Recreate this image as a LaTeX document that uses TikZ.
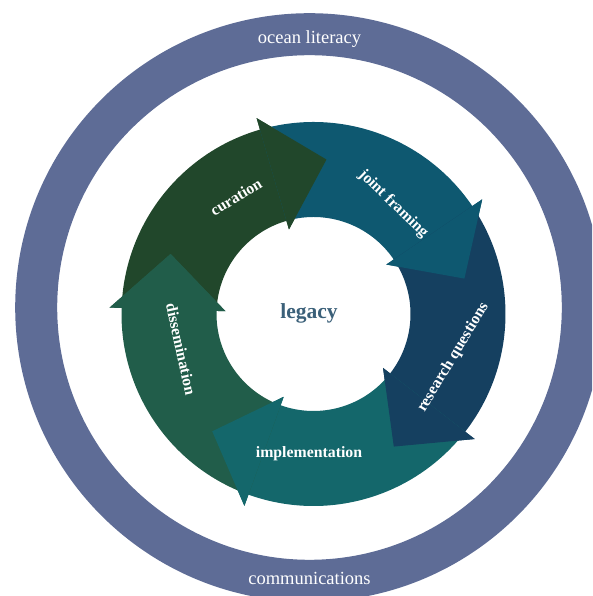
\documentclass[tikz,border=0pt]{standalone}
\usepackage{fontspec}
\setmainfont{Liberation Serif}
\usetikzlibrary{calc}
\definecolor{ringcol}{HTML}{5E6C96}
\definecolor{curcol}{HTML}{21472B}
\definecolor{jfcol}{HTML}{0E5870}
\definecolor{rqcol}{HTML}{154060}
\definecolor{impcol}{HTML}{14676B}
\definecolor{discol}{HTML}{215D4A}
\definecolor{legcol}{HTML}{3B6079}
\tikzset{
  steplabel/.style={text=white, inner sep=0pt, font=\bfseries\fontsize{15.8}{18}\selectfont},
  ringlabel/.style={text=white, inner sep=0pt, anchor=base, font=\fontsize{18.5}{21}\selectfont},
}
\begin{document}
\begin{tikzpicture}[x=1pt,y=1pt]
\useasboundingbox (0,0) rectangle (592,596);
\clip (0,0) rectangle (592,596);
\coordinate (O) at (309.5,288.5);
\coordinate (C) at (313.5,282);
% outer ring
\fill[ringcol, even odd rule] (O) circle[radius=294.3pt] (O) circle[radius=252.3pt];
% cycle segments
\begin{scope}[shift={(C)}]
\foreach \b/\c in {106.2/curcol, 34.2/jfcol, -37.8/rqcol, -109.8/impcol, -181.8/discol}{
  \fill[\c] (\b+72:192) arc[start angle=\b+72, end angle=\b, radius=192pt]
     -- (\b:204) -- (\b-21:155) -- (\b:88) -- (\b:97)
     arc[start angle=\b, end angle=\b+72, radius=97pt] -- cycle;
}
\foreach \b/\c in {106.2/curcol, 34.2/jfcol, -37.8/rqcol, -109.8/impcol, -181.8/discol}{
  \fill[\c] (\b:204) -- (\b-21:155) -- (\b:88) -- cycle;
}
\end{scope}
% labels
\node[ringlabel] (ocean) at (309.5,552.5) {ocean literacy};
\node[ringlabel] (comm) at (309.5,11) {communications};
\node[text=legcol, inner sep=0pt, anchor=base, font=\bfseries\fontsize{21.5}{24}\selectfont] (legacy) at (309,277) {legacy};
\node[steplabel, rotate=31] (curation) at (236,399) {curation};
\node[steplabel, rotate=-44] (joint) at (393.3,391.8) {joint framing};
\node[steplabel, rotate=59] (research) at (453.3,238.5) {research questions};
\node[steplabel, anchor=base] (impl) at (309,138) {implementation};
\node[steplabel, rotate=-77.7] (diss) at (181,247) {dissemination};
\end{tikzpicture}
\end{document}
